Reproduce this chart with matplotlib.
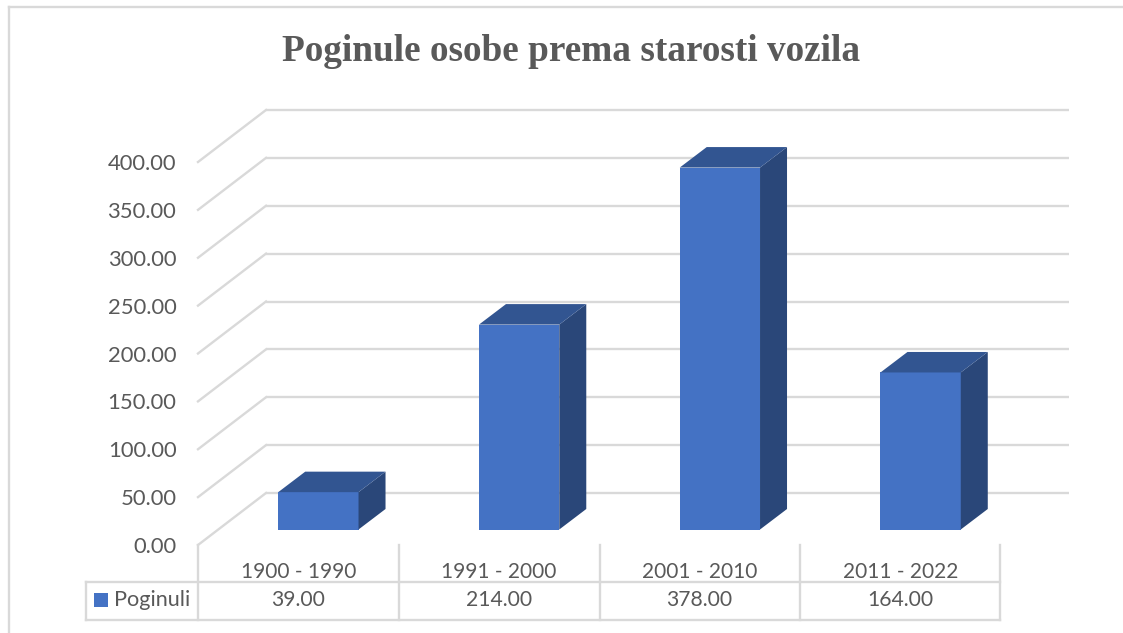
import matplotlib
matplotlib.use("Agg")
import matplotlib.pyplot as plt
from matplotlib.lines import Line2D
from matplotlib.patches import Polygon, Rectangle
from matplotlib.transforms import Affine2D, IdentityTransform

categories = ["1900 - 1990", "1991 - 2000", "2001 - 2010", "2011 - 2022"]
values = [39, 214, 378, 164]
value_labels = ["39.00", "214.00", "378.00", "164.00"]
series_name = "Poginuli"
y_ticks = [0, 50, 100, 150, 200, 250, 300, 350, 400]
title = "Poginule osobe prema starosti vozila"

W, H = 1123, 633
GRID = "#D9D9D9"
TEXT = "#595959"
FRONT = "#4472C4"
TOP = "#325591"
SIDE = "#2A4779"
SANS = "Lato"
LW = 1.7

def fy(p):
    return (H - p) / H

fig = plt.figure(figsize=(W / 100, H / 100), dpi=100, facecolor="white")
ax = fig.add_axes([218 / W, fy(529.5), 803 / W, 383 / H])
ax.set_xlim(-0.5, 3.5)
ax.set_ylim(0, 400)
ax.patch.set_visible(False)
for s in ax.spines.values():
    s.set_visible(False)

front_off = Affine2D().translate(-20, -15.5)
back_off = Affine2D().translate(48, 36.5)

# back wall gridlines and side wall diagonals
for v in y_ticks:
    ax.plot([-0.5, 3.5], [v, v], color=GRID, lw=LW, transform=ax.transData + back_off,
            clip_on=False, zorder=1, solid_capstyle="butt")
    p0 = ax.transData.transform((-0.5, v))
    ax.add_line(Line2D([p0[0] - 20, p0[0] + 48], [p0[1] - 15.5, p0[1] + 36.5], color=GRID, lw=LW,
                       transform=IdentityTransform(), clip_on=False, zorder=1))

# bars with depth
ax.bar(range(4), values, width=0.4, color=FRONT, zorder=3, clip_on=False)
DX, DY = 27, 20.5
for i, v in enumerate(values):
    l = ax.transData.transform((i - 0.2, 0))
    r = ax.transData.transform((i + 0.2, v))
    ax.add_patch(Polygon([(r[0], l[1]), (r[0] + DX, l[1] + DY), (r[0] + DX, r[1] + DY), (r[0], r[1])],
                         closed=True, fc=SIDE, ec="none", transform=IdentityTransform(), clip_on=False, zorder=3))
    ax.add_patch(Polygon([(l[0], r[1]), (r[0], r[1]), (r[0] + DX, r[1] + DY), (l[0] + DX, r[1] + DY)],
                         closed=True, fc=TOP, ec="none", transform=IdentityTransform(), clip_on=False, zorder=3))

# axis tick labels
ax.set_yticks(y_ticks, [f"{v:.2f}" for v in y_ticks])
ax.set_xticks(range(4), categories)
ax.tick_params(axis="y", length=0, pad=15.6, labelsize=15.8, labelcolor=TEXT)
ax.tick_params(axis="x", length=0, pad=23.2, labelsize=15, labelcolor=TEXT)
for lab in ax.get_yticklabels() + ax.get_xticklabels():
    lab.set_fontfamily(SANS)
for lab in ax.get_yticklabels():
    lab.set_transform(lab.get_transform() + front_off)
for lab in ax.get_xticklabels():
    lab.set_transform(lab.get_transform() + Affine2D().translate(-20, 0))

# data table
def fl(xs, ys):
    fig.add_artist(Line2D([x / W for x in xs], [fy(y) for y in ys], color=GRID, lw=LW, solid_capstyle="projecting"))

fl([86, 1000], [582, 582])
fl([86, 1000], [620, 620])
fl([86, 86], [582, 620])
for x in [198, 399, 600, 800, 1000]:
    fl([x, x], [545, 620])
for i, lab in enumerate(value_labels):
    fig.text((298.5 + 200.5 * i) / W, fy(600.5), lab, ha="center", va="center", color=TEXT,
             fontsize=15.2, fontfamily=SANS)
fig.add_artist(Rectangle((94 / W, fy(607)), 14 / W, 14 / H, fc=FRONT, ec="none", transform=fig.transFigure))
fig.text(114 / W, fy(600.5), series_name, ha="left", va="center", color=TEXT, fontsize=15.6, fontfamily=SANS)

# chart frame
fl([9, 1123], [7, 7])
fl([9, 9], [7, 633])

fig.text(571.5 / W, fy(51.5), title, ha="center", va="center", color=TEXT, fontsize=26.8,
         fontweight="bold", fontfamily="Liberation Serif")

fig.savefig("out.png", dpi=100)
